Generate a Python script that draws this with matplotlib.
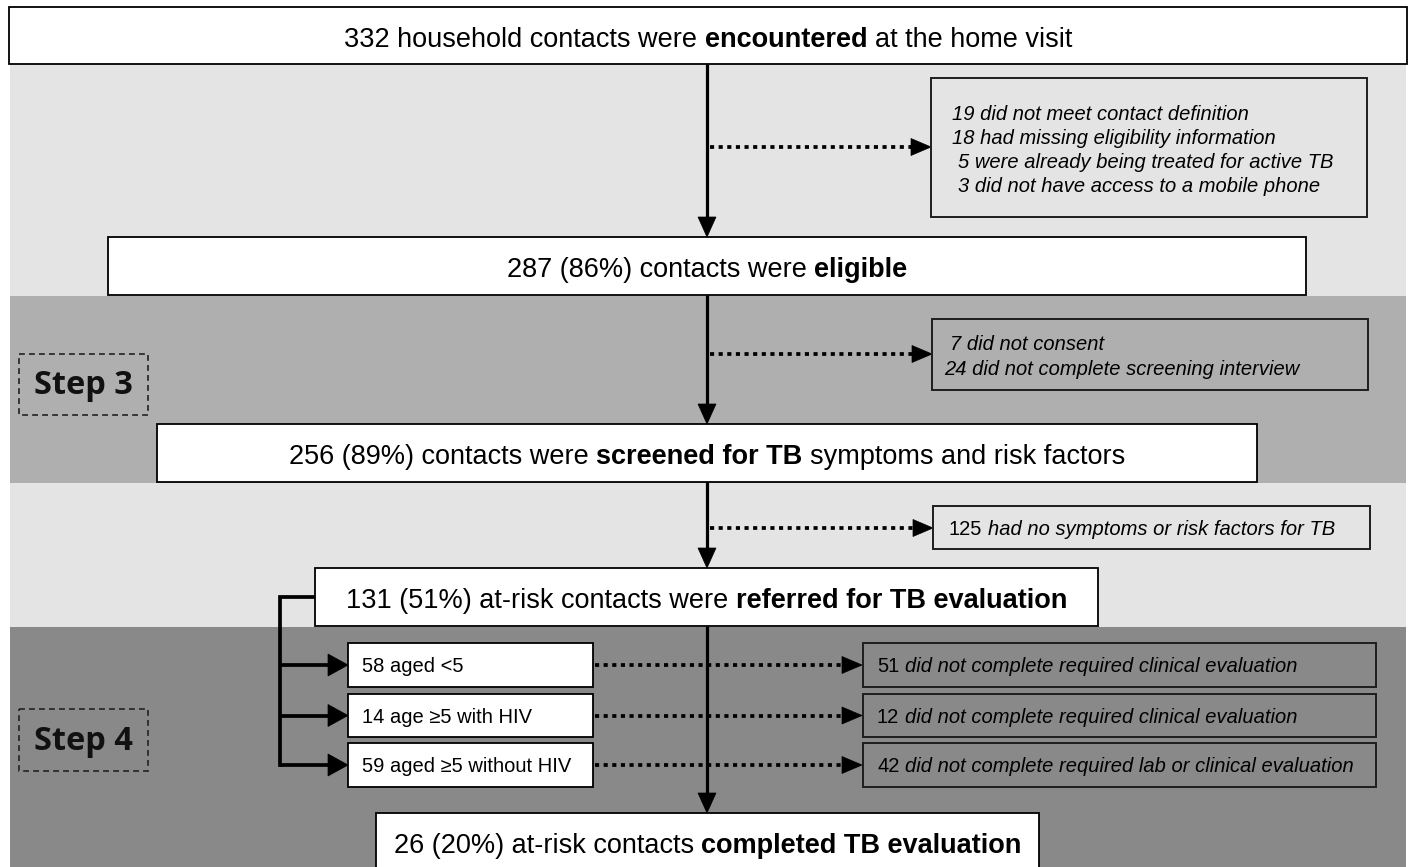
import matplotlib
matplotlib.use('Agg')
import matplotlib.pyplot as plt
from matplotlib.patches import Rectangle, Polygon

# ---------------- data ----------------
stage_texts = [
    [("332 household contacts were ", 'normal'), ("encountered", 'bold'), (" at the home visit", 'normal')],
    [("287 (86%) contacts were ", 'normal'), ("eligible", 'bold')],
    [("256 (89%) contacts were ", 'normal'), ("screened for TB", 'bold'), (" symptoms and risk factors", 'normal')],
    [("131 (51%) at-risk contacts were ", 'normal'), ("referred for TB evaluation", 'bold')],
    [("26 (20%) at-risk contacts ", 'normal'), ("completed TB evaluation", 'bold')],
]
excluded_1 = ["19 did not meet contact definition",
              "18 had missing eligibility information",
              " 5 were already being treated for active TB",
              " 3 did not have access to a mobile phone"]
excluded_2 = [" 7 did not consent",
              "24 did not complete screening interview"]
excluded_3 = [("125 ", 'normal'), ("had no symptoms or risk factors for TB", 'italic')]
subgroups = ["58 aged <5", "14 age \u22655 with HIV", "59 aged \u22655 without HIV"]
subgroup_excl_n = ["51", "12", "42"]
subgroup_excl_txt = ["did not complete required clinical evaluation",
                     "did not complete required clinical evaluation",
                     "did not complete required lab or clinical evaluation"]
step_labels = ["Step 3", "Step 4"]

# ---------------- layout / style ----------------
W, H = 1408, 867
FONT = 'Liberation Sans'
LIGHT, MID, DARK = '#e4e4e4', '#afafaf', '#898989'
fig = plt.figure(figsize=(W / 100, H / 100), dpi=100)
ax = fig.add_axes([0, 0, 1, 1])
ax.set_xlim(0, W)
ax.set_ylim(H, 0)
ax.axis('off')
renderer = fig.canvas.get_renderer()


def measure(s, size, weight='normal', style='normal'):
    t = ax.text(0, 0, s, fontsize=size, fontweight=weight, fontstyle=style, family=FONT)
    w = t.get_window_extent(renderer).width
    t.remove()
    return w


def rich(x, yc, parts, size, ha='center'):
    """parts: list of (string, kind) where kind in normal/bold/italic"""
    em = size * 100 / 72
    base = yc + 0.716 * em / 2
    segs = []
    total = 0
    for s, kind in parts:
        weight = 'bold' if kind == 'bold' else 'normal'
        style = 'italic' if kind == 'italic' else 'normal'
        sp = measure('n n', size, weight, style) - measure('nn', size, weight, style)
        lead = len(s) - len(s.lstrip(' '))
        trail = len(s) - len(s.rstrip(' '))
        core = s.strip(' ')
        wc = measure(core, size, weight, style) if core else 0
        segs.append((lead * sp, core, wc, trail * sp, weight, style))
        total += lead * sp + wc + trail * sp
    cx = x - total / 2 if ha == 'center' else x
    for lead, core, wc, trail, weight, style in segs:
        cx += lead
        if core:
            ax.text(cx, base, core, fontsize=size, fontweight=weight, fontstyle=style,
                    family=FONT, ha='left', va='baseline', zorder=10)
        cx += wc + trail


def box(x0, y0, x1, y1, fc='white', ec='black', lw=1.2, z=5, ls='-'):
    ax.add_patch(Rectangle((x0, y0), x1 - x0, y1 - y0, facecolor=fc, edgecolor=ec,
                           lw=lw, zorder=z, linestyle=ls))


def head(xt, yt, direction, length, width, z=6):
    if direction == 'down':
        pts = [(xt, yt), (xt - width / 2, yt - length), (xt + width / 2, yt - length)]
    else:  # right
        pts = [(xt, yt), (xt - length, yt - width / 2), (xt - length, yt + width / 2)]
    ax.add_patch(Polygon(pts, closed=True, facecolor='black', edgecolor='black', lw=0.5, zorder=z))


def dotted_arrow(x0, x1, y):
    ax.plot([x0, x1 - 17], [y, y], color='black', lw=2.7, linestyle=(0, (1.1, 1.2)),
            solid_capstyle='butt', dash_capstyle='butt', zorder=3)
    head(x1, y, 'right', 20, 17, z=3)


# background bands
bands = [(64, 296, LIGHT), (296, 483, MID), (483, 627, LIGHT), (627, 880, DARK)]
for y0, y1, c in bands:
    ax.add_patch(Rectangle((10, y0), 1396, y1 - y0, facecolor=c, edgecolor='none', zorder=0))

# main stage boxes
stage_boxes = [(9, 7, 1407, 64), (108, 237, 1306, 295), (157, 424, 1257, 482),
               (315, 568, 1098, 626), (376, 813, 1039, 900)]
stage_ty = [37, 267, 454, 598, 843]
for (x0, y0, x1, y1), ty, parts in zip(stage_boxes, stage_ty, stage_texts):
    box(x0, y0, x1, y1, lw=1.3)
    rich((x0 + x1) / 2, ty, parts, 19.5)

# main vertical flow
MX = 707
for i in range(len(stage_boxes) - 1):
    ya = stage_boxes[i][3]
    yb = stage_boxes[i + 1][1]
    ax.plot([MX, MX], [ya, yb - 18], color='black', lw=2.3, solid_capstyle='butt', zorder=4)
    head(MX, yb, 'down', 20, 18, z=4)

# exclusion boxes in steps 1-3
SZ = 14.5
EC = '#1e1e1e'
box(931, 78, 1367, 217, fc=LIGHT, ec=EC, lw=1.4)
for y, s in zip([113, 137, 161, 185], excluded_1):
    rich(952, y, [(s, 'italic')], SZ, ha='left')
dotted_arrow(710, 931, 147)

box(932, 319, 1368, 390, fc=MID, ec=EC, lw=1.4)
for y, s in zip([343, 368], excluded_2):
    rich(944, y, [(s, 'italic')], SZ, ha='left')
dotted_arrow(710, 932, 354)

box(933, 506, 1370, 549, fc=LIGHT, ec=EC, lw=1.4)
rich(949, 528, excluded_3, SZ, ha='left')
dotted_arrow(710, 933, 528)

# step 4 subgroups
sub_rows = [(643, 687), (694, 737), (743, 787)]
BX = 280
ax.plot([315, BX, BX], [597, 597, (sub_rows[-1][0] + sub_rows[-1][1]) / 2],
        color='black', lw=2.7, solid_joinstyle='miter', zorder=4)
for (y0, y1), lab, n, txt in zip(sub_rows, subgroups, subgroup_excl_n, subgroup_excl_txt):
    yc = (y0 + y1) / 2
    box(348, y0, 593, y1, lw=1.3)
    rich(362, yc, [(lab, 'normal')], SZ, ha='left')
    ax.plot([BX, 330], [yc, yc], color='black', lw=2.7, solid_capstyle='butt', zorder=4)
    head(348, yc, 'right', 20, 22, z=4)
    box(863, y0, 1376, y1, fc=DARK, ec=EC, lw=1.4)
    rich(877, yc, [(n + " ", 'normal'), (txt, 'italic')], SZ, ha='left')
    dotted_arrow(595, 862, yc)

# step labels
for (y0, y1), lab in zip([(354, 415), (709, 771)], step_labels):
    box(19, y0, 148, y1, fc='none', ec='#222222', lw=1.2, ls=(0, (3.5, 2.5)))
    ax.text(83.5, (y0 + y1) / 2 + 1, lab, fontsize=23.5, fontweight='bold', family='Open Sans',
            ha='center', va='center', color='#111111', zorder=10)

fig.savefig('out.png', dpi=100)
